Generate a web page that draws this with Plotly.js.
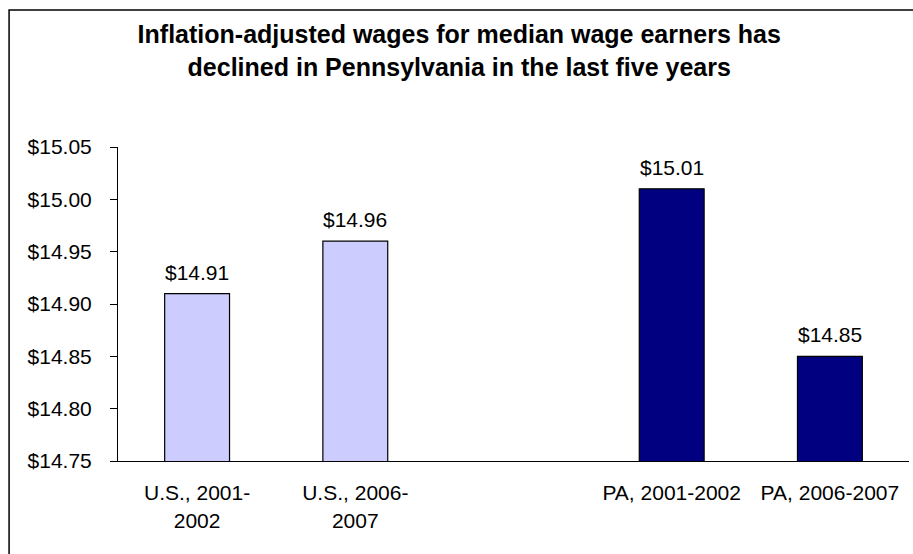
<!DOCTYPE html>
<html>
<head>
<meta charset="utf-8">
<script src="https://cdn.plot.ly/plotly-3.0.1.min.js"></script>
<style>
  html, body { margin: 0; padding: 0; background: #ffffff; }
  #chart { width: 913px; height: 554px; }
</style>
</head>
<body>
<div id="chart"></div>
<script>
// ---- data ----
var categories = ['U.S., 2001-2002', 'U.S., 2006-2007', ' ', 'PA, 2001-2002', 'PA, 2006-2007'];
var tickLabels = ['U.S., 2001-<br>2002', 'U.S., 2006-<br>2007', ' ', 'PA, 2001-2002', 'PA, 2006-2007'];
var usCategories = ['U.S., 2001-2002', 'U.S., 2006-2007'];
var usValues = [14.91, 14.96];
var paCategories = ['PA, 2001-2002', 'PA, 2006-2007'];
var paValues = [15.01, 14.85];
var titleText = 'Inflation-adjusted wages for median wage earners has<br>declined in Pennsylvania in the last five years';

var FONT = '"Liberation Sans", Arial, Helvetica, sans-serif';

var traces = [
  {
    type: 'bar', x: usCategories, y: usValues, width: 0.41,
    marker: { color: '#CCCCFF', line: { color: '#000000', width: 1.2 } },
    hoverinfo: 'x+y', showlegend: false
  },
  {
    type: 'bar', x: paCategories, y: paValues, width: 0.41,
    marker: { color: '#000080', line: { color: '#000000', width: 1.2 } },
    hoverinfo: 'x+y', showlegend: false
  }
];

var allCats = usCategories.concat(paCategories);
var allVals = usValues.concat(paValues);
var annotations = allCats.map(function (c, i) {
  return {
    x: c, y: allVals[i], xref: 'x', yref: 'y',
    text: '$' + allVals[i].toFixed(2),
    showarrow: false, yanchor: 'bottom', yshift: 8,
    font: { family: FONT, size: 21, color: '#000000' }
  };
});

var layout = {
  width: 913, height: 554,
  margin: { l: 118, r: 4, t: 147, b: 93 },
  paper_bgcolor: '#ffffff', plot_bgcolor: '#ffffff',
  font: { family: FONT, size: 21, color: '#000000' },
  title: {
    text: titleText,
    font: { family: FONT, size: 25, color: '#000000', weight: 'bold' },
    x: 0.503, xref: 'container', xanchor: 'center',
    y: 0.922, yref: 'container', yanchor: 'top'
  },
  barmode: 'overlay',
  xaxis: {
    type: 'category',
    categoryorder: 'array', categoryarray: categories,
    tickmode: 'array', tickvals: categories, ticktext: tickLabels,
    range: [-0.5, 4.5],
    showline: true, linecolor: '#000000', linewidth: 1,
    ticks: '', showgrid: false, zeroline: false,
    ticklabelstandoff: 13,
    tickfont: { family: FONT, size: 21, color: '#000000' },
    fixedrange: true
  },
  yaxis: {
    range: [14.75, 15.05], dtick: 0.05, tick0: 14.75,
    tickformat: '.2f', tickprefix: '$',
    showline: true, linecolor: '#000000', linewidth: 1,
    ticks: 'outside', ticklen: 7, tickcolor: '#000000', tickwidth: 1,
    ticklabelstandoff: 14,
    showgrid: false, zeroline: false,
    tickfont: { family: FONT, size: 21, color: '#000000' },
    fixedrange: true
  },
  annotations: annotations,
  shapes: [
    {
      type: 'rect', xref: 'paper', yref: 'paper',
      x0: -0.1377, x1: 1.03, y0: -0.35, y1: 1.436,
      line: { color: '#000000', width: 1.5 }, fillcolor: 'rgba(0,0,0,0)'
    }
  ]
};

Plotly.newPlot('chart', traces, layout, { displayModeBar: false, staticPlot: true });
</script>
</body>
</html>
